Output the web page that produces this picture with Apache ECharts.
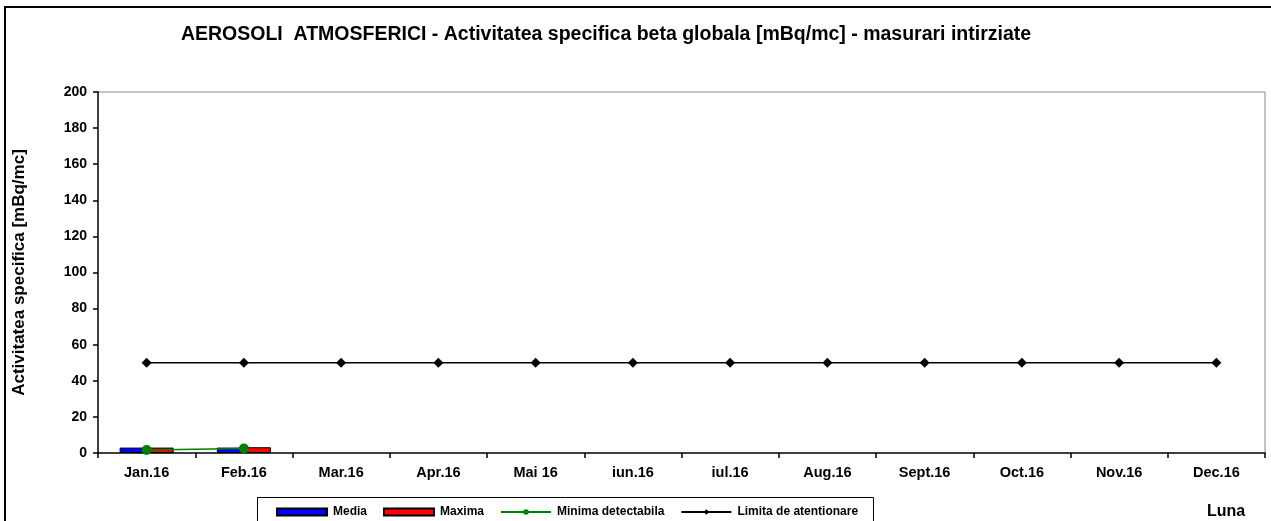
<!DOCTYPE html>
<html><head><meta charset="utf-8">
<script src="https://cdn.jsdelivr.net/npm/echarts@6/dist/echarts.min.js"></script>
<style>html,body{margin:0;padding:0;background:#fff}#c{width:1271px;height:521px}</style>
</head><body><div id="c"></div>
<script>
const categories = ['Jan.16','Feb.16','Mar.16','Apr.16','Mai 16','iun.16','iul.16','Aug.16','Sept.16','Oct.16','Nov.16','Dec.16'];
const media = [3, 3, null, null, null, null, null, null, null, null, null, null];
const maxima = [3, 3.2, null, null, null, null, null, null, null, null, null, null];
const minima = [1.7, 2.5, null, null, null, null, null, null, null, null, null, null];
const limita = [50, 50, 50, 50, 50, 50, 50, 50, 50, 50, 50, 50];
const yTicks = [0, 20, 40, 60, 80, 100, 120, 140, 160, 180, 200];

const F = 'Arial, "Liberation Sans", sans-serif';
const chart = echarts.init(document.getElementById('c'), null, {renderer:'canvas'});
chart.setOption({
  animation:false,
  title:{text:'AEROSOLI  ATMOSFERICI - Activitatea specifica beta globala [mBq/mc] - masurari intirziate',
    left:601, top:20, textAlign:'center',
    textStyle:{fontFamily:F, fontSize:19.5, fontWeight:'bold', color:'#000'}},
  graphic:[
    {type:'rect', shape:{x:5,y:7,width:1275,height:530}, style:{fill:'none', stroke:'#000', lineWidth:2}, silent:true},
    {type:'line', shape:{x1:98,y1:92,x2:1265,y2:92}, style:{stroke:'#888', lineWidth:1}, silent:true},
    {type:'line', shape:{x1:1265,y1:92,x2:1265,y2:453}, style:{stroke:'#888', lineWidth:1}, silent:true},
    {type:'rect', shape:{x:257.5,y:497.5,width:616,height:40}, style:{fill:'#fff', stroke:'#000', lineWidth:1}, silent:true, z:-1},
    {type:'text', left:1207, top:504, style:{text:'Luna', font:'bold 16px '+F, fill:'#000'}}
  ],
  legend:{left:271, top:501, itemWidth:50, itemHeight:7, itemGap:16,
    textStyle:{fontFamily:F, fontSize:12, fontWeight:'bold', color:'#000', padding:[0,0,0,1]},
    data:[
      {name:'Media', icon:'rect'},
      {name:'Maxima', icon:'rect'},
      {name:'Minima detectabila'},
      {name:'Limita de atentionare'}
    ]},
  grid:{left:98, right:6, top:92, bottom:68, containLabel:false},
  xAxis:{type:'category', data:categories,
    axisLine:{lineStyle:{color:'#000', width:1.5}},
    axisTick:{show:true, length:5, lineStyle:{color:'#000', width:1.5}},
    axisLabel:{fontFamily:F, fontSize:14.5, fontWeight:'bold', color:'#000', margin:12}},
  yAxis:{type:'value', min:0, max:200, interval:20,
    name:'Activitatea specifica [mBq/mc]', nameLocation:'middle', nameGap:70, nameRotate:90,
    nameTextStyle:{fontFamily:F, fontSize:17, fontWeight:'bold', color:'#000'},
    splitLine:{show:false},
    axisLine:{show:true, lineStyle:{color:'#000', width:1.5}},
    axisTick:{show:true, length:5, lineStyle:{color:'#000', width:1.5}},
    axisLabel:{fontFamily:F, fontSize:14, fontWeight:'bold', color:'#000', margin:11,
      formatter:v => yTicks.includes(v) ? String(v) : ''}},
  series:[
    {name:'Media', type:'bar', data:media, barWidth:27, barGap:'0%',
      itemStyle:{color:'#0000ff', borderColor:'#000', borderWidth:1}},
    {name:'Maxima', type:'bar', data:maxima, barWidth:27, barGap:'0%',
      itemStyle:{color:'#ff0000', borderColor:'#000', borderWidth:1}},
    {name:'Minima detectabila', type:'line', data:minima, symbol:'circle', symbolSize:10,
      lineStyle:{color:'#008000', width:1.5}, itemStyle:{color:'#008000'}, z:5},
    {name:'Limita de atentionare', type:'line', data:limita, symbol:'diamond', symbolSize:10,
      lineStyle:{color:'#000', width:1.5}, itemStyle:{color:'#000'}, z:5}
  ]
});
</script></body></html>
